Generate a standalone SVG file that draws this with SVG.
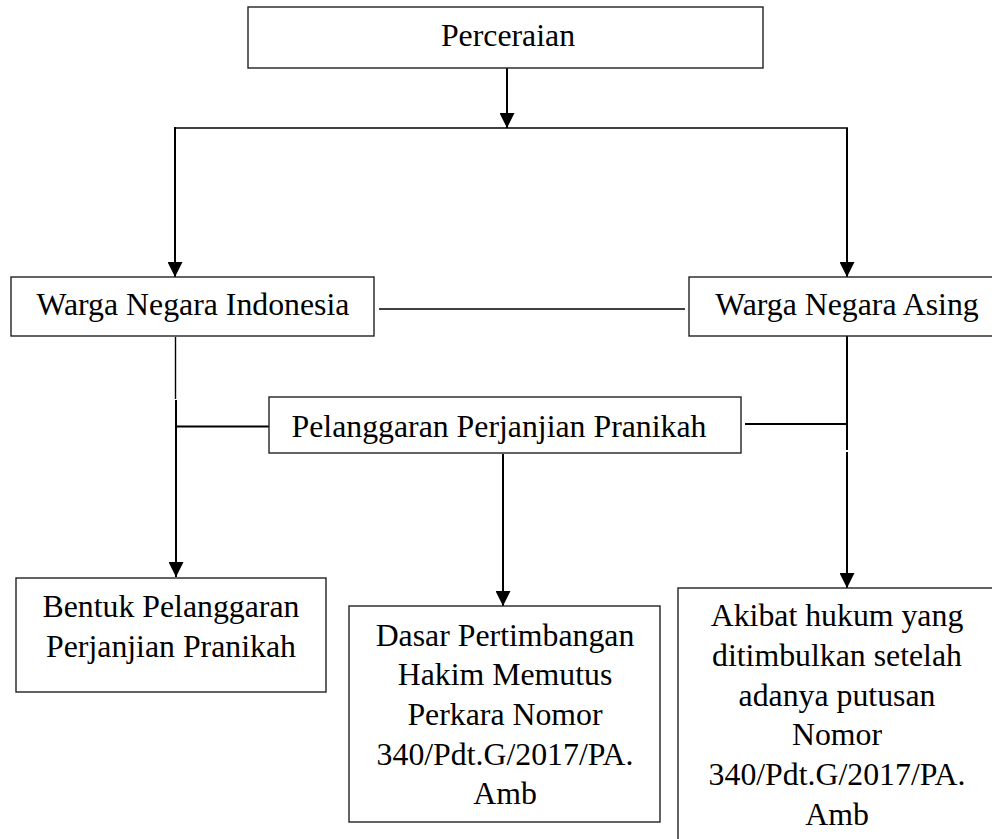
<svg xmlns="http://www.w3.org/2000/svg" width="992" height="839" viewBox="0 0 992 839">
<defs>
<style>
.box{fill:#fff;stroke:#222;stroke-width:1.4}
.t{font-family:"Liberation Serif","Times New Roman",serif;font-size:31.8px;fill:#000;text-anchor:middle}
.c{fill:none;stroke:#000;stroke-width:2}
.thin{fill:none;stroke:#000;stroke-width:1.4}
</style>
<marker id="ah" viewBox="0 0 15 15" refX="15" refY="7.5" markerWidth="15" markerHeight="15" markerUnits="userSpaceOnUse" orient="auto">
<path d="M0,0 L15,7.5 L0,15 z" fill="#000"/>
</marker>
</defs>
<rect width="992" height="839" fill="#fff"/>
<g id="connectors">
<line class="c" x1="507" y1="68" x2="507" y2="128" marker-end="url(#ah)"/>
<line class="thin" x1="175" y1="128" x2="848" y2="128"/>
<line class="c" x1="175" y1="127" x2="175" y2="277" marker-end="url(#ah)"/>
<line class="c" x1="847" y1="128" x2="847" y2="277" marker-end="url(#ah)"/>
<line class="thin" x1="379" y1="309" x2="685" y2="309"/>
<line class="thin" x1="175.5" y1="337" x2="175.5" y2="399"/>
<line class="c" x1="176" y1="400" x2="176" y2="577" marker-end="url(#ah)"/>
<line class="c" x1="176" y1="426.5" x2="269" y2="426.5"/>
<line class="c" x1="847" y1="336" x2="847" y2="450"/>
<line class="c" x1="745" y1="424" x2="847" y2="424"/>
<line class="c" x1="847" y1="452" x2="847" y2="588" marker-end="url(#ah)"/>
<line class="c" x1="503" y1="454" x2="503" y2="606" marker-end="url(#ah)"/>
</g>
<g id="perceraian">
<rect class="box" x="248" y="7" width="515" height="61"/>
<text class="t" x="508" y="46">Perceraian</text>
</g>
<g id="wni">
<rect class="box" x="11" y="277" width="363" height="59"/>
<text class="t" x="193" y="315">Warga Negara Indonesia</text>
</g>
<g id="wna">
<rect class="box" x="689" y="277" width="320" height="59"/>
<text class="t" x="847" y="315">Warga Negara Asing</text>
</g>
<g id="pelanggaran">
<rect class="box" x="269" y="397" width="472" height="56"/>
<text class="t" x="499" y="437">Pelanggaran Perjanjian Pranikah</text>
</g>
<g id="bentuk">
<rect class="box" x="16" y="578" width="310" height="114"/>
<text class="t" x="171" y="617">Bentuk Pelanggaran</text>
<text class="t" x="171" y="657">Perjanjian Pranikah</text>
</g>
<g id="dasar">
<rect class="box" x="349" y="606" width="311" height="216"/>
<text class="t" x="505" y="646">Dasar Pertimbangan</text>
<text class="t" x="505" y="685">Hakim Memutus</text>
<text class="t" x="505" y="725">Perkara Nomor</text>
<text class="t" x="505" y="765">340/Pdt.G/2017/PA.</text>
<text class="t" x="505" y="804">Amb</text>
</g>
<g id="akibat">
<rect class="box" x="678" y="588" width="318" height="270"/>
<text class="t" x="837" y="626">Akibat hukum yang</text>
<text class="t" x="837" y="666">ditimbulkan setelah</text>
<text class="t" x="837" y="706">adanya putusan</text>
<text class="t" x="837" y="745">Nomor</text>
<text class="t" x="837" y="785">340/Pdt.G/2017/PA.</text>
<text class="t" x="837" y="825">Amb</text>
</g>
</svg>
